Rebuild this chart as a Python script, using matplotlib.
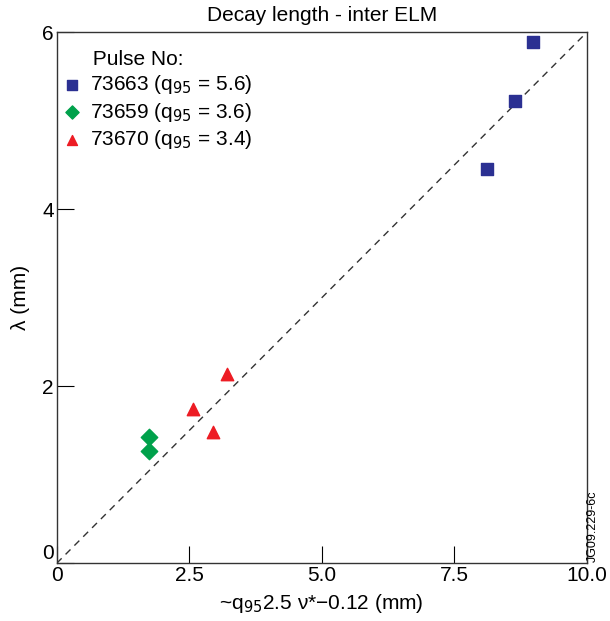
import numpy as np
import matplotlib
matplotlib.use("Agg")
import matplotlib.pyplot as plt

plt.rcParams['font.family'] = ['Liberation Sans', 'DejaVu Sans']

# pulse 73663 (q95 = 5.6)
x_73663 = [8.98, 8.64, 8.11]
y_73663 = [5.89, 5.22, 4.45]
# pulse 73659 (q95 = 3.6)
x_73659 = [1.74, 1.74]
y_73659 = [1.43, 1.27]
# pulse 73670 (q95 = 3.4)
x_73670 = [3.21, 2.57, 2.94]
y_73670 = [2.14, 1.74, 1.48]

xticks = [0, 2.5, 5.0, 7.5, 10.0]
xticklabels = ["0", "2.5", "5.0", "7.5", "10.0"]
yticks = [0, 2, 4, 6]

fig = plt.figure(figsize=(6.10, 6.21), dpi=100)
ax = fig.add_axes([0.093, 0.093, 0.869, 0.855])

ax.plot([0, 10], [0, 6], linestyle=(0, (5, 4)), color="#333333", lw=1.0)

ax.scatter(x_73663, y_73663, marker="s", s=80, color="#2B3092", label="73663 (q$_{95}$ = 5.6)", zorder=3)
ax.scatter(x_73659, y_73659, marker="D", s=70, color="#00A14B", label="73659 (q$_{95}$ = 3.6)", zorder=3)
ax.scatter(x_73670, y_73670, marker="^", s=80, color="#ED1C24", label="73670 (q$_{95}$ = 3.4)", zorder=3)

ax.set_xlim(0, 10)
ax.set_ylim(0, 6)
ax.set_xticks(xticks)
ax.set_xticklabels(xticklabels)
ax.set_yticks(yticks)
ax.tick_params(direction="in", length=12, width=0.8, labelsize=15, pad=2)
# the y "0" sits just above the x axis, clear of the x "0"
ax.get_yticklabels()[0].set_va("bottom")
for s in ax.spines.values():
    s.set_linewidth(1.0)
    s.set_color("#333333")

ax.set_title("Decay length - inter ELM", fontsize=15, pad=8)
ax.set_xlabel("~q$_{95}$2.5 \u03bd*\u22120.12 (mm)", fontsize=15, labelpad=5)
ax.set_ylabel("\u03bb (mm)", fontsize=15, labelpad=9)

# leading spaces line the title up with the entry texts, as in the original
leg = ax.legend(title="     Pulse No:", loc="upper left", bbox_to_anchor=(-0.002, 0.983),
                frameon=False, fontsize=15, title_fontsize=15, handletextpad=0.45,
                borderaxespad=0, markerscale=0.8, labelspacing=0.22, handlelength=0.8)
leg._legend_box.align = "left"

fig.text(0.972, 0.095, "JG09.229-6c", rotation=90, fontsize=9, ha="center", va="bottom")

fig.savefig("out.png", dpi=100)
